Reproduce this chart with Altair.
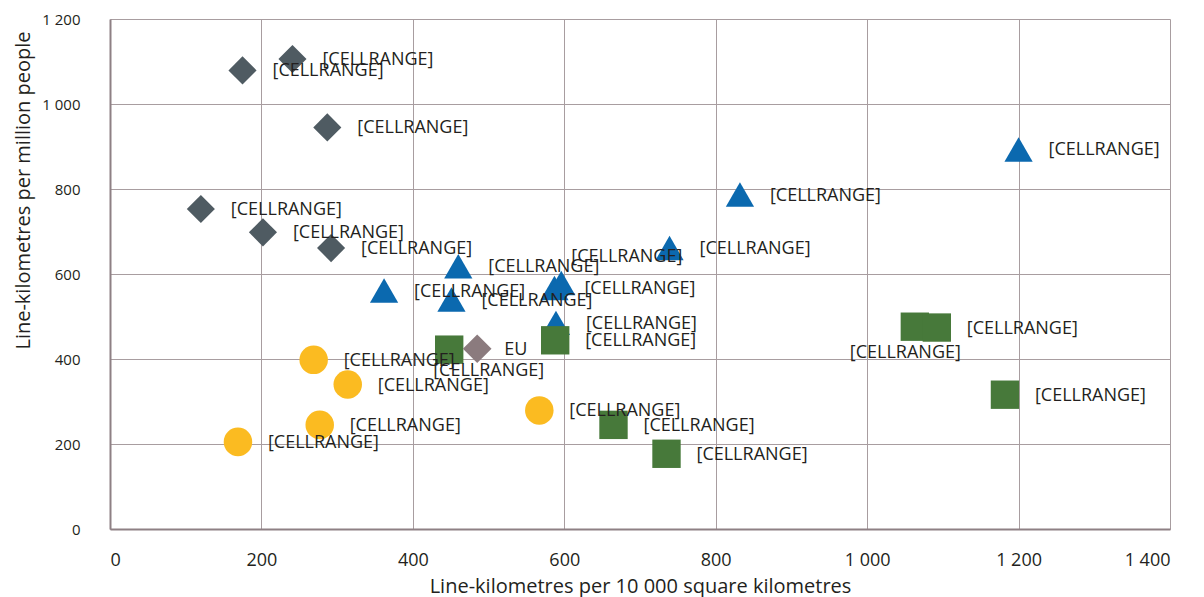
import altair as alt
import pandas as pd

# ---- data ----
dia_x = [175, 241, 287, 120, 202, 292]
dia_y = [1079, 1106, 945, 753, 698, 661]
dia_pos = ["right"] * 6

tri_x = [362, 460, 451, 587, 596, 589, 739, 832, 1200]
tri_y = [561, 618, 540, 567, 579, 485, 661, 787, 893]
tri_pos = ["right", "right", "right", "right", "above", "right", "right", "right", "right"]

sq_x = [448, 588, 665, 735, 1063, 1092, 1182]
sq_y = [422, 444, 245, 177, 476, 474, 316]
sq_pos = ["belowright", "right", "right", "right", "below", "right", "right"]

cir_x = [269, 314, 277, 169, 567]
cir_y = [398, 340, 245, 205, 279]
cir_pos = ["right"] * 5

eu_x = [485]
eu_y = [424]
eu_pos = ["near"]

group_names = ["diamond", "triangle", "square", "circle", "EU"]
group_shapes = ["diamond", "triangle-up", "square", "circle", "diamond"]
group_colors = ["#4F5B62", "#0B69AF", "#47793A", "#FBBB21", "#8B7B7E"]
group_sizes = [790, 820, 560, 840, 790]

x_ticks = [0, 200, 400, 600, 800, 1000, 1200, 1400]
y_ticks = [0, 200, 400, 600, 800, 1000, 1200]

rows = []
for g, xs, ys, ps in [
    ("diamond", dia_x, dia_y, dia_pos),
    ("triangle", tri_x, tri_y, tri_pos),
    ("square", sq_x, sq_y, sq_pos),
    ("circle", cir_x, cir_y, cir_pos),
    ("EU", eu_x, eu_y, eu_pos),
]:
    for i, (xv, yv, pv) in enumerate(zip(xs, ys, ps)):
        rows.append({"group": g, "x": xv, "y": yv, "pos": pv,
                     "label": "EU" if g == "EU" else "[CELLRANGE]",
                     "order": len(rows)})
df = pd.DataFrame(rows)

FONT = "Open Sans"
TEXT = "#231F20"
fmt = "replace(format(datum.value, ','), ',', ' ')"

x_enc = alt.X("x:Q", scale=alt.Scale(domain=[0, 1400], nice=False, zero=True),
              axis=alt.Axis(values=x_ticks, labelExpr=fmt, grid=True, ticks=False, tickSize=0,
                            labelPadding=31, labelBaseline="middle", labelFontSize=18,
                            labelFont=FONT, labelColor=TEXT,
                            title="Line-kilometres per 10 000 square kilometres",
                            titleFont=FONT, titleFontSize=20, titleFontWeight="normal",
                            titleColor=TEXT, titleX=530, titleY=63, titleAlign="center",
                            titleBaseline="alphabetic",
                            domainColor="#8E8084", domainWidth=2,
                            gridColor="#A89DA0", gridWidth=1, gridOpacity=1))
y_enc = alt.Y("y:Q", scale=alt.Scale(domain=[0, 1200], nice=False, zero=True),
              axis=alt.Axis(values=y_ticks, labelExpr=fmt, grid=True, ticks=False, tickSize=0,
                            labelPadding=30, labelFontSize=15, labelFont=FONT, labelColor=TEXT,
                            labelBaseline="middle",
                            title="Line-kilometres per million people",
                            titleFont=FONT, titleFontSize=20, titleFontWeight="normal",
                            titleColor=TEXT, titleAngle=270, titleX=-81, titleY=171,
                            titleAlign="center", titleBaseline="alphabetic",
                            domainColor="#8E8084", domainWidth=2,
                            gridColor="#A89DA0", gridWidth=1, gridOpacity=1))

base = alt.Chart(df)

points = base.mark_point(filled=True, opacity=1, strokeWidth=0).encode(
    x=x_enc, y=y_enc,
    shape=alt.Shape("group:N", scale=alt.Scale(domain=group_names, range=group_shapes), legend=None),
    color=alt.Color("group:N", scale=alt.Scale(domain=group_names, range=group_colors), legend=None),
    size=alt.Size("group:N", scale=alt.Scale(domain=group_names, range=group_sizes), legend=None),
    order=alt.Order("order:Q"),
)

placements = {
    "right": dict(dx=30, dy=1),
    "near": dict(dx=27, dy=1),
    "above": dict(dx=10, dy=-26),
    "belowright": dict(dx=-16, dy=21),
    "below": dict(dx=-65, dy=26),
}

text_layers = []
for p, off in placements.items():
    text_layers.append(
        base.transform_filter(alt.datum.pos == p).mark_text(
            align="left", baseline="middle", font=FONT, fontSize=18, color=TEXT, **off
        ).encode(x="x:Q", y="y:Q", text="label:N")
    )

chart = alt.layer(points, *text_layers).properties(
    width=1060, height=510,
    autosize=alt.AutoSizeParams(type="none"),
    padding={"left": 102, "top": 11, "right": 26, "bottom": 72},
    background="white",
).configure_view(stroke=None)

chart.save("out.html", embed_options={"renderer": "svg", "actions": False})
